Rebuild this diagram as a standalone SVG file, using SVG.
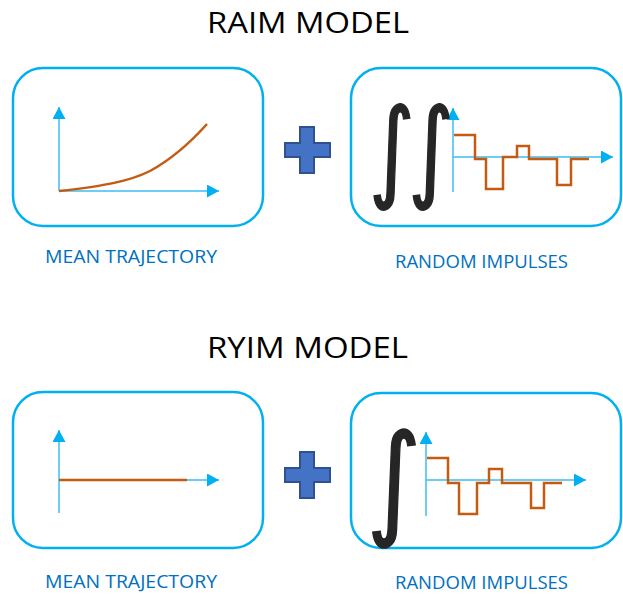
<svg xmlns="http://www.w3.org/2000/svg" width="623" height="594" viewBox="0 0 623 594">
<style>
.box{fill:none;stroke:#00b0f0;stroke-width:2.5}
.axis{fill:none;stroke:#3cbdf2;stroke-width:1.5}
.sig{fill:none;stroke:#c55a11;stroke-width:2.5}
.plus{fill:#4472c4;stroke:#2f528f;stroke-width:2}
.title{font-family:"Open Sans","Liberation Sans",sans-serif;font-size:30px;fill:#000}
.label{font-family:"Open Sans","Liberation Sans",sans-serif;font-size:19px;fill:#0070c0}
.int{font-family:"DejaVu Sans",sans-serif;fill:#262626;stroke:#262626;stroke-width:1.5}
</style>
<defs>
<marker id="ah" markerUnits="userSpaceOnUse" markerWidth="13" markerHeight="13" viewBox="0 0 13 13" refX="12" refY="6.5" orient="auto">
<path d="M0,0 L12,6.5 L0,13 z" fill="#00b0f0"/>
</marker>
</defs>
<rect width="623" height="594" fill="#fff"/>
<text class="title" x="207" y="33" textLength="202" lengthAdjust="spacingAndGlyphs">RAIM MODEL</text>
<text class="title" x="207" y="358" textLength="201" lengthAdjust="spacingAndGlyphs">RYIM MODEL</text>
<g id="connectors">
<path class="axis" d="M59,191 V107" marker-end="url(#ah)"/>
<path class="axis" d="M59,191 H219" marker-end="url(#ah)"/>
<path class="axis" d="M453,192 V108" marker-end="url(#ah)"/>
<path class="axis" d="M453,157 H613" marker-end="url(#ah)"/>
<path class="axis" d="M59,513 V430" marker-end="url(#ah)"/>
<path class="axis" d="M59,480 H219" marker-end="url(#ah)"/>
<path class="axis" d="M426,516 V432" marker-end="url(#ah)"/>
<path class="axis" d="M426,480 H586" marker-end="url(#ah)"/>
</g>
<g id="raim-mean">
<rect class="box" x="13" y="68" width="250" height="158" rx="30"/>
<path class="sig" d="M59,191 C105,186 130,181 150,171 C172,159 190,143 207,124"/>
<text class="label" x="45" y="263" textLength="172" lengthAdjust="spacingAndGlyphs">MEAN TRAJECTORY</text>
</g>
<g id="raim-plus"><path class="plus" d="M300,127 H314 V143 H330 V157 H314 V173 H300 V157 H285 V143 H300 Z"/></g>
<g id="raim-random">
<rect class="box" x="351" y="68" width="270" height="158" rx="30"/>
<text class="int" font-size="110" transform="translate(0,187) scale(0.8,1)" text-anchor="middle" x="490 539">∫∫</text>
<path class="sig" d="M454,135 H475 V159 H486 V189 H503 V157 H517 V146 H529 V159 H557 V185 H571 V159 H589"/>
<text class="label" x="395" y="268" textLength="173" lengthAdjust="spacingAndGlyphs">RANDOM IMPULSES</text>
</g>
<g id="ryim-mean">
<rect class="box" x="13" y="392" width="250" height="156" rx="30"/>
<path class="sig" d="M59,480 H187"/>
<text class="label" x="45" y="588" textLength="172" lengthAdjust="spacingAndGlyphs">MEAN TRAJECTORY</text>
</g>
<g id="ryim-plus"><path class="plus" d="M300,452 H314 V468 H330 V482 H314 V498 H300 V482 H285 V468 H300 Z"/></g>
<g id="ryim-random">
<rect class="box" x="351" y="393" width="270" height="155" rx="30"/>
<text class="int" font-size="123" transform="translate(394,522) scale(0.85,1)" text-anchor="middle">∫</text>
<path class="sig" d="M427,458 H448 V483 H459 V514 H477 V483 H489 V469 H502 V483 H531 V508 H544 V483 H562"/>
<text class="label" x="395" y="589" textLength="173" lengthAdjust="spacingAndGlyphs">RANDOM IMPULSES</text>
</g>
</svg>
